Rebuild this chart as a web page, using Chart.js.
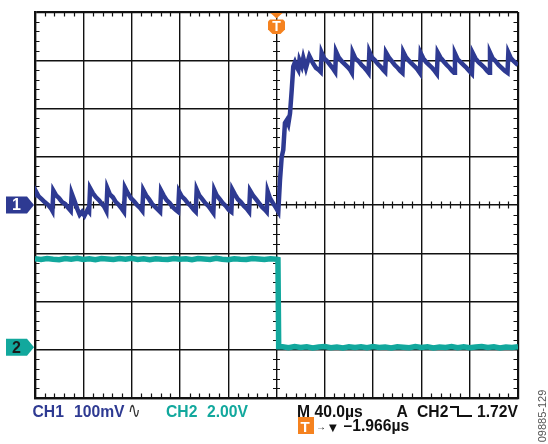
<!DOCTYPE html>
<html><head><meta charset="utf-8">
<script src="https://cdn.jsdelivr.net/npm/chart.js@4.4.1/dist/chart.umd.min.js"></script>
<style>
html,body{margin:0;padding:0;background:#fff;}
#wrap{position:relative;width:548px;height:444px;overflow:hidden;background:#fff;}
#c{position:absolute;left:0;top:0;}
.t{position:absolute;font-family:"Liberation Sans",Arial,sans-serif;font-weight:bold;font-size:15.7px;line-height:15.7px;white-space:nowrap;}
.navy{color:#2E3A92;}
.teal{color:#12A89D;}
.blk{color:#111;}
</style></head><body>
<div id="wrap">
<canvas id="c" width="548" height="444"></canvas>
<span class="t navy" style="left:32.5px;top:404px;">CH1</span>
<span class="t navy" style="left:74px;top:404px;">100mV</span>
<span class="t" style="left:128px;top:404px;font-family:'DejaVu Sans';font-weight:normal;font-size:15px;color:#333;transform:scaleY(1.5);">∿</span>
<span class="t teal" style="left:166px;top:404px;">CH2</span>
<span class="t teal" style="left:207px;top:404px;">2.00V</span>
<span class="t blk" style="left:297px;top:404px;">M 40.0µs</span>
<span class="t blk" style="left:396.5px;top:404px;">A</span>
<span class="t blk" style="left:417px;top:404px;">CH2</span>
<div style="position:absolute;left:450px;top:406px;width:6.5px;height:9px;border-top:2.4px solid #111;border-right:2.4px solid #111;"></div>
<div style="position:absolute;left:456.5px;top:414.6px;width:15px;height:0;border-bottom:2.4px solid #111;"></div>
<span class="t blk" style="left:477px;top:404px;">1.72V</span>
<div style="position:absolute;left:298px;top:416.5px;width:15.5px;height:17px;background:#F5821F;"></div>
<span class="t" style="left:300.5px;top:418.5px;color:#fff;font-size:15px;">T</span>
<span class="t blk" style="left:316px;top:419px;font-size:10px;">→</span>
<span class="t blk" style="left:329px;top:419.5px;font-size:10px;font-family:'DejaVu Sans';">▼</span>
<span class="t blk" style="left:343.5px;top:418.4px;">–1.966µs</span>
<span style="position:absolute;left:542px;top:416px;transform:translate(-50%,-50%) rotate(-90deg);font-family:'Liberation Sans',Arial,sans-serif;font-size:11px;color:#555;white-space:nowrap;">09885-129</span>
</div>
<script>
// ---- data (time in µs, CH1 in mV, CH2 in V) ----
const ch1Time = [
 -200,-199.2,-197,-194.5,-192,-189,-186.5,-185.6,
 -184.8,-182.5,-180,-177.5,-175,-172.5,-170.4,
 -169.6,-167.5,-165,-163,-161,-159,-156.5,-155.2,
 -154.4,-152,-149.5,-147,-144.5,-142.5,-140.9,
 -140.1,-138,-135.5,-133,-130.5,-128,-126.3,
 -125.5,-123,-120.5,-118,-115.5,-113,-111.1,
 -110.3,-108,-105.5,-103,-100.5,-98,-96.4,
 -95.6,-93.5,-91,-88.5,-86,-83.5,-81.5,
 -80.7,-78.5,-76,-73.5,-71,-68.5,-66.9,
 -66.1,-64,-61.5,-59,-56.5,-54,-52.3,
 -51.5,-49.5,-47,-44.5,-42,-39.5,-37.4,
 -36.6,-34.5,-32,-29.5,-27,-24.5,-22.7,
 -21.9,-19.5,-17,-14.5,-12,-9.5,-8.1,
 -7.3,-5.4,-2.9,-0.4,1.5,
 2.9,4.3,5.6,7.0,8.5,9.8,11.2,12.6,13.9,15.3,
 16.8,18.1,19.0,20.9,22.2,24.4,27.2,30.2,32.7,35.0,36.6,
 37.4,39.5,42,44.5,47,48.6,
 49.3,51.5,54,56.5,59,61,62.4,
 63.1,65.3,68,70.5,73,75,76.2,
 76.9,79,81.5,84,86.5,88.5,90,
 90.7,93,95.5,98,100.5,102.5,104.3,
 105.0,107.2,110,112.5,115,117,118.7,
 119.4,121.5,124,126.5,129,131,132.8,
 133.5,135.7,138.3,141,143.5,145.5,147.1,
 147.8,150,152.5,155,157.5,159.5,161.8,
 162.5,164.7,167.3,170,172.5,174.5,176.1,
 176.8,179,181.5,184,186.5,189,191.3,
 192.0,194.2,196.5,199,200
];
const ch1Mv = [
 20,28,18,12,6,0,-8,-12,
 30,20,14,6,2,-6,-12,
 24,10,-8,-20,-14,-22,-10,-14,
 35,24,16,10,2,-4,-12,
 35,22,16,6,0,-8,-14,
 36,24,14,8,0,-6,-12,
 31,20,12,2,-4,-10,-14,
 30,20,10,4,-4,-10,-14,
 28,18,12,4,-2,-10,-14,
 32,20,12,4,-2,-10,-16,
 31,20,12,4,-2,-10,-14,
 32,22,12,6,-2,-8,-14,
 30,20,12,4,-4,-10,-14,
 28,14,4,-6,-14,
 52,100,114,170,176,168,190,238,287,296,
 286,280,300,288,305,284,309,294,284,280,276,
 316,304,298,290,282,276,
 318,306,298,292,286,280,274,
 316,304,298,290,284,278,274,
 318,306,300,292,286,280,276,
 316,306,298,290,284,278,274,
 317,306,298,292,286,280,274,
 315,304,296,290,284,278,272,
 316,306,298,290,284,278,274,
 314,302,296,290,284,278,272,
 315,304,296,290,284,278,274,
 316,304,298,290,284,278,274,
 316,304,298,292,290
];
const ch2Time = [
 -200,-195,-190,-185,-180,-175,-170,-165,-160,-155,
 -150,-145,-140,-135,-130,-125,-120,-115,-110,-105,
 -100,-95,-90,-85,-80,-75,-70,-65,-60,-55,
 -50,-45,-40,-35,-30,-25,-20,-15,-10,-5,
 0,1.2,1.8,
 5,10,15,20,25,30,35,40,45,50,
 55,60,65,70,75,80,85,90,95,100,
 105,110,115,120,125,130,135,140,145,150,
 155,160,165,170,175,180,185,190,195,200
];
const ch2Volt = [
 3.67,3.64,3.68,3.65,3.63,3.68,3.65,3.69,3.64,3.67,
 3.63,3.68,3.66,3.64,3.68,3.65,3.69,3.64,3.67,3.63,
 3.67,3.65,3.64,3.68,3.65,3.67,3.63,3.68,3.66,3.64,
 3.69,3.65,3.63,3.67,3.65,3.64,3.68,3.66,3.64,3.67,
 3.65,3.64,0.02,
 0.02,-0.02,0.03,-0.01,0.02,-0.03,0.01,0.03,-0.02,0.01,
 -0.03,0.02,-0.01,0.02,-0.02,0.03,-0.01,0.01,-0.03,0.02,
 0.00,-0.02,0.03,-0.01,0.02,-0.03,0.01,-0.01,0.03,-0.02,
 0.02,-0.02,0.01,0.03,-0.01,0.02,-0.03,0.01,-0.01,0.02
];
const timeRange = [-200, 200];      // 10 div x 40 µs
const timePerDiv = 40;
const divRange = [-4, 4];           // 8 vertical divisions
const ch1Range = [-400, 400];       // 100 mV/div, ground at centre
const ch2Range = [-2.1, 13.9];      // 2 V/div
const triggerTime = 0;

const NAVY = '#2E3A92', TEAL = '#12A89D', ORANGE = '#F5821F';

const scopeDecor = {
  id: 'scopeDecor',
  beforeDatasetsDraw(chart) {
    const {ctx, chartArea: a, scales} = chart;
    const x = scales.x, y = scales.y;
    const cx = x.getPixelForValue(0), cy = y.getPixelForValue(0);
    ctx.save();
    ctx.strokeStyle = '#111';
    ctx.lineWidth = 1.2;
    ctx.beginPath();
    for (let i = -25; i <= 25; i++) {
      if (i % 5 === 0) continue;
      const px = Math.round(x.getPixelForValue(i * timePerDiv / 5)) + 0.5;
      ctx.moveTo(px, a.top); ctx.lineTo(px, a.top + 4.5);
      ctx.moveTo(px, a.bottom); ctx.lineTo(px, a.bottom - 4.5);
      ctx.moveTo(px, cy - 3.5); ctx.lineTo(px, cy + 3.5);
    }
    for (let i = -20; i <= 20; i++) {
      if (i % 5 === 0) continue;
      const py = Math.round(y.getPixelForValue(i / 5)) + 0.5;
      ctx.moveTo(a.left, py); ctx.lineTo(a.left + 4.5, py);
      ctx.moveTo(a.right, py); ctx.lineTo(a.right - 4.5, py);
      ctx.moveTo(cx - 3.5, py); ctx.lineTo(cx + 3.5, py);
    }
    ctx.stroke();
    ctx.restore();
  },
  afterDraw(chart) {
    const {ctx, chartArea: a, scales} = chart;
    const g1 = scales.y1.getPixelForValue(0);
    const g2 = scales.y2.getPixelForValue(0);
    const tx = scales.x.getPixelForValue(triggerTime);
    ctx.save();
    const marker = (cy, fill, txt, txtColor) => {
      ctx.fillStyle = fill;
      ctx.beginPath();
      ctx.moveTo(6, cy - 8.5); ctx.lineTo(27, cy - 8.5); ctx.lineTo(34, cy);
      ctx.lineTo(27, cy + 8.5); ctx.lineTo(6, cy + 8.5); ctx.closePath();
      ctx.fill();
      ctx.fillStyle = txtColor;
      ctx.font = 'bold 16px "Liberation Sans", Arial, sans-serif';
      ctx.textAlign = 'center'; ctx.textBaseline = 'middle';
      ctx.fillText(txt, 16.5, cy + 1);
    };
    marker(g1, NAVY, '1', '#fff');
    marker(g2, TEAL, '2', '#1a1a1a');
    // trigger marker
    ctx.fillStyle = ORANGE;
    ctx.beginPath();
    ctx.moveTo(tx - 6, a.top + 1); ctx.lineTo(tx + 6, a.top + 1); ctx.lineTo(tx, a.top + 6.5);
    ctx.closePath(); ctx.fill();
    const t0 = a.top + 7.5;
    ctx.beginPath();
    ctx.moveTo(tx - 6.5, t0); ctx.lineTo(tx + 6.5, t0); ctx.lineTo(tx + 8.5, t0 + 2);
    ctx.lineTo(tx + 8.5, t0 + 10); ctx.lineTo(tx + 4, t0 + 14.5); ctx.lineTo(tx - 4, t0 + 14.5);
    ctx.lineTo(tx - 8.5, t0 + 10); ctx.lineTo(tx - 8.5, t0 + 2); ctx.closePath();
    ctx.fill();
    ctx.fillStyle = '#fff';
    ctx.font = 'bold 14px "Liberation Sans", Arial, sans-serif';
    ctx.textAlign = 'center'; ctx.textBaseline = 'middle';
    ctx.fillText('T', tx, t0 + 7.5);
    ctx.restore();
  }
};

const gridW = (c) => (c.tick && (c.tick.value === c.scale.min || c.tick.value === c.scale.max)) ? 2.2 : 1.4;

new Chart(document.getElementById('c'), {
  type: 'line',
  data: {
    datasets: [
      {
        label: 'CH2',
        data: ch2Time.map((t, i) => ({x: t, y: ch2Volt[i]})),
        yAxisID: 'y2', borderColor: TEAL, borderWidth: 5.5,
        pointRadius: 0, tension: 0, fill: false
      },
      {
        label: 'CH1',
        data: ch1Time.map((t, i) => ({x: t, y: ch1Mv[i]})),
        yAxisID: 'y1', borderColor: NAVY, borderWidth: 4.5,
        pointRadius: 0, tension: 0, fill: false
      }
    ]
  },
  options: {
    responsive: false, animation: false, devicePixelRatio: 1,
    layout: {padding: {left: 35, right: 30, top: 12, bottom: 46}},
    plugins: {legend: {display: false}, tooltip: {enabled: false}},
    scales: {
      x: {
        type: 'linear', min: timeRange[0], max: timeRange[1],
        ticks: {display: false, stepSize: timePerDiv},
        grid: {color: '#111', lineWidth: gridW, drawTicks: false},
        border: {display: true, color: '#111', width: 2.2}
      },
      y: {
        type: 'linear', min: divRange[0], max: divRange[1],
        ticks: {display: false, stepSize: 1},
        grid: {color: '#111', lineWidth: gridW, drawTicks: false},
        border: {display: true, color: '#111', width: 2.2}
      },
      y1: {type: 'linear', display: false, min: ch1Range[0], max: ch1Range[1]},
      y2: {type: 'linear', display: false, min: ch2Range[0], max: ch2Range[1]}
    }
  },
  plugins: [scopeDecor]
});
</script>
</body></html>
